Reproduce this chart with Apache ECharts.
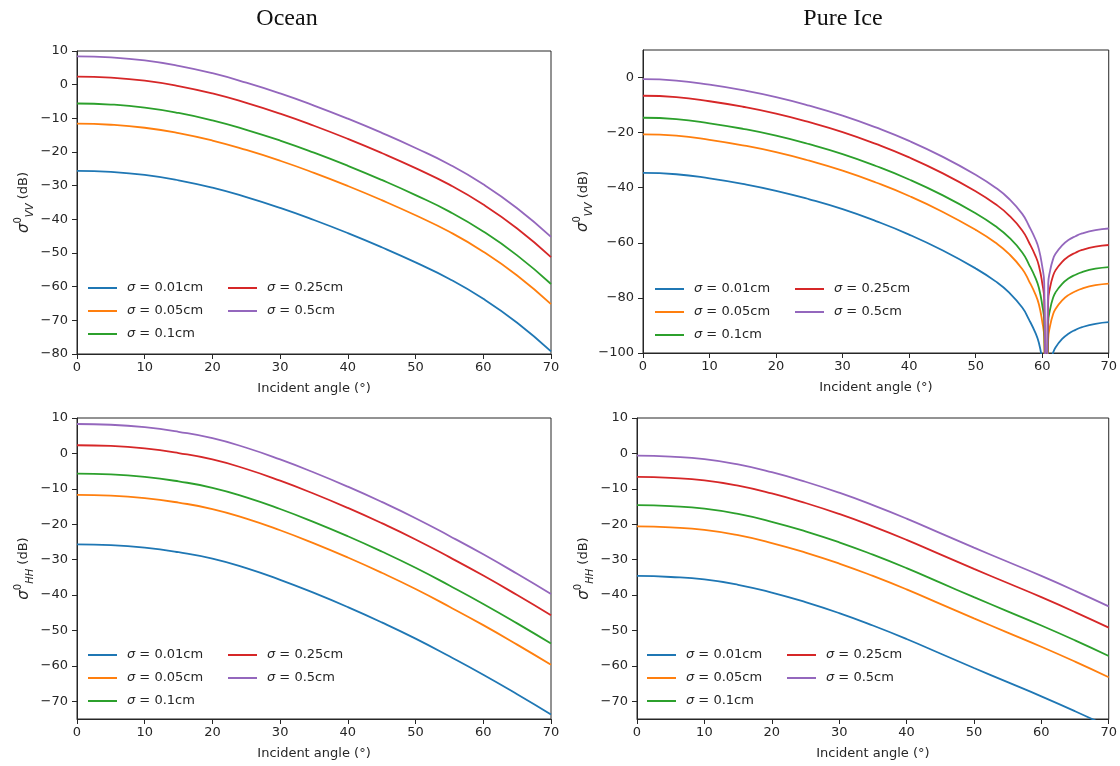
<!DOCTYPE html>
<html>
<head>
<meta charset="utf-8">
<script src="https://cdn.jsdelivr.net/npm/echarts@6/dist/echarts.min.js"></script>
<style>
  html, body { margin: 0; padding: 0; background: #fff; }
  #chart { width: 1120px; height: 766px; }
</style>
</head>
<body>
<div id="chart"></div>
<script>
// Backscattering coefficient vs incident angle for five rms heights (cm)
const sigmaValues = ['0.01', '0.05', '0.1', '0.25', '0.5'];
const lineColors = ['#1f77b4', '#ff7f0e', '#2ca02c', '#d62728', '#9467bd'];

// Incident angles (degrees)
const angles = [0, 5, 10, 15, 20, 25, 30, 35, 40, 45, 50, 55, 60, 65, 70];
// Pure ice VV has a deep null near 60.6°, so it is sampled more densely there
const iceVvAngles = [0, 5, 10, 15, 20, 25, 30, 35, 40, 45, 50, 53, 55, 57, 58, 59, 59.5, 60, 60.3,
  60.6, 60.9, 61.2, 61.6, 62, 63, 64, 65, 66, 68, 70];

// Tick values
const xTicks = [0, 10, 20, 30, 40, 50, 60, 70];
const oceanVvTicks = [-80, -70, -60, -50, -40, -30, -20, -10, 0, 10];
const iceVvTicks = [-100, -80, -60, -40, -20, 0];
const hhTicks = [-70, -60, -50, -40, -30, -20, -10, 0, 10];

// sigma0 (dB), rows in the order of sigmaValues
const oceanVv = [
  [-25.6, -25.9, -26.8, -28.4, -30.6, -33.4, -36.6, -40.2, -44.1, -48.3, -52.8, -57.7, -63.6, -70.7, -79.2],
  [-11.6, -11.9, -12.8, -14.4, -16.6, -19.4, -22.6, -26.2, -30.1, -34.3, -38.8, -43.7, -49.6, -56.7, -65.2],
  [-5.6, -5.9, -6.8, -8.4, -10.6, -13.4, -16.6, -20.2, -24.1, -28.3, -32.8, -37.7, -43.6, -50.7, -59.2],
  [2.4, 2.1, 1.2, -0.4, -2.6, -5.4, -8.6, -12.2, -16.1, -20.3, -24.8, -29.7, -35.6, -42.7, -51.2],
  [8.4, 8.1, 7.2, 5.6, 3.4, 0.6, -2.6, -6.2, -10.1, -14.3, -18.8, -23.7, -29.6, -36.7, -45.2]
];

const iceVv = [
  [-34.6, -35.1, -36.6, -38.6, -41.1, -44.2, -47.8, -52.1, -57.0, -62.7, -69.3, -74.0, -78.0, -83.5, -87.8,
   -92.8, -96.3, -102.5, -108.5, -174, -109.0, -104.0, -100.2, -98.0, -94.9, -92.9, -91.6, -90.6, -89.4, -88.8],
  [-20.6, -21.1, -22.6, -24.6, -27.1, -30.2, -33.8, -38.1, -43.0, -48.7, -55.3, -60.0, -64.0, -69.5, -73.8,
   -78.8, -82.3, -88.5, -94.5, -160, -95.0, -90.0, -86.2, -84.0, -80.9, -78.9, -77.6, -76.6, -75.4, -74.8],
  [-14.6, -15.1, -16.6, -18.6, -21.1, -24.2, -27.8, -32.1, -37.0, -42.7, -49.3, -54.0, -58.0, -63.5, -67.8,
   -72.8, -76.3, -82.5, -88.5, -154, -89.0, -84.0, -80.2, -78.0, -74.9, -72.9, -71.6, -70.6, -69.4, -68.8],
  [-6.6, -7.1, -8.6, -10.6, -13.1, -16.2, -19.8, -24.1, -29.0, -34.7, -41.3, -46.0, -50.0, -55.5, -59.8,
   -64.8, -68.3, -74.5, -80.5, -146, -81.0, -76.0, -72.2, -70.0, -66.9, -64.9, -63.6, -62.6, -61.4, -60.8],
  [-0.6, -1.1, -2.6, -4.6, -7.1, -10.2, -13.8, -18.1, -23.0, -28.7, -35.3, -40.0, -44.0, -49.5, -53.8,
   -58.8, -62.3, -68.5, -74.5, -140, -75.0, -70.0, -66.2, -64.0, -60.9, -58.9, -57.6, -56.6, -55.4, -54.8]
];

const oceanHh = [
  [-25.7, -25.9, -26.6, -27.9, -29.7, -32.4, -35.7, -39.4, -43.4, -47.7, -52.3, -57.3, -62.5, -68.0, -73.7],
  [-11.7, -11.9, -12.6, -13.9, -15.7, -18.4, -21.7, -25.4, -29.4, -33.7, -38.3, -43.3, -48.5, -54.0, -59.7],
  [-5.7, -5.9, -6.6, -7.9, -9.7, -12.4, -15.7, -19.4, -23.4, -27.7, -32.3, -37.3, -42.5, -48.0, -53.7],
  [2.3, 2.1, 1.4, 0.1, -1.7, -4.4, -7.7, -11.4, -15.4, -19.7, -24.3, -29.3, -34.5, -40.0, -45.7],
  [8.3, 8.1, 7.4, 6.1, 4.3, 1.6, -1.7, -5.4, -9.4, -13.7, -18.3, -23.3, -28.5, -34.0, -39.7]
];

const iceHh = [
  [-34.6, -34.9, -35.6, -37.1, -39.3, -42.0, -45.1, -48.6, -52.4, -56.5, -60.6, -64.6, -68.6, -72.8, -77.2],
  [-20.6, -20.9, -21.6, -23.1, -25.3, -28.0, -31.1, -34.6, -38.4, -42.5, -46.6, -50.6, -54.6, -58.8, -63.2],
  [-14.6, -14.9, -15.6, -17.1, -19.3, -22.0, -25.1, -28.6, -32.4, -36.5, -40.6, -44.6, -48.6, -52.8, -57.2],
  [-6.6, -6.9, -7.6, -9.1, -11.3, -14.0, -17.1, -20.6, -24.4, -28.5, -32.6, -36.6, -40.6, -44.8, -49.2],
  [-0.6, -0.9, -1.6, -3.1, -5.3, -8.0, -11.1, -14.6, -18.4, -22.5, -26.6, -30.6, -34.6, -38.8, -43.2]
];

const seriesNames = sigmaValues.map(s => 'σ = ' + s + 'cm');

const panels = [
  { grid: { left: 77, top: 51, width: 474, height: 303 }, pol: 'VV', min: -80, max: 10,
    ticks: oceanVvTicks, xs: angles, rows: oceanVv, legendLeft: 88, legendTop: 281 },
  { grid: { left: 643, top: 50, width: 467, height: 303 }, pol: 'VV', min: -100, max: 10,
    ticks: iceVvTicks, xs: iceVvAngles, rows: iceVv, legendLeft: 655, legendTop: 282 },
  { grid: { left: 77, top: 418, width: 474, height: 301 }, pol: 'HH', min: -75, max: 10,
    ticks: hhTicks, xs: angles, rows: oceanHh, legendLeft: 88, legendTop: 648 },
  { grid: { left: 637, top: 418, width: 473, height: 301 }, pol: 'HH', min: -75, max: 10,
    ticks: hhTicks, xs: angles, rows: iceHh, legendLeft: 647, legendTop: 648 }
];

const FONT = 'DejaVu Sans';
const INK = '#262626';
const minusSign = v => String(v).replace('-', '\u2212');

const grids = [], xAxes = [], yAxes = [], series = [], legends = [];

panels.forEach((p, i) => {
  grids.push(Object.assign({ show: true, borderColor: INK, borderWidth: 1, containLabel: false }, p.grid));

  xAxes.push({
    type: 'value', gridIndex: i, min: 0, max: 70, interval: 10,
    axisLine: { show: true, onZero: false, lineStyle: { color: INK, width: 1 } },
    axisTick: { show: true, inside: false, length: 5, lineStyle: { color: INK }, customValues: xTicks },
    axisLabel: { color: INK, fontFamily: FONT, fontSize: 13, margin: 7, customValues: xTicks },
    splitLine: { show: false },
    name: 'Incident angle (°)', nameLocation: 'middle', nameGap: 28,
    nameTextStyle: { color: INK, fontFamily: FONT, fontSize: 13 }
  });

  yAxes.push({
    type: 'value', gridIndex: i, min: p.min, max: p.max,
    axisLine: { show: true, onZero: false, lineStyle: { color: INK, width: 1 } },
    axisTick: { show: true, inside: false, length: 5, lineStyle: { color: INK }, customValues: p.ticks },
    axisLabel: { color: INK, fontFamily: FONT, fontSize: 13, margin: 9, customValues: p.ticks,
      formatter: minusSign },
    splitLine: { show: false },
    name: '{s|σ}{sup|0}{sub|' + p.pol + '} (dB)',
    nameLocation: 'middle', nameRotate: 90, nameGap: 42,
    nameTextStyle: {
      color: INK, fontFamily: FONT, fontSize: 13, lineHeight: 22,
      rich: {
        s: { fontFamily: FONT, fontStyle: 'italic', fontSize: 15, lineHeight: 22, color: INK },
        sup: { fontFamily: FONT, fontSize: 10, lineHeight: 22, verticalAlign: 'top', color: INK },
        sub: { fontFamily: FONT, fontStyle: 'italic', fontSize: 10, lineHeight: 22, verticalAlign: 'bottom', color: INK }
      }
    }
  });

  p.rows.forEach((row, k) => {
    series.push({
      type: 'line', name: seriesNames[k], xAxisIndex: i, yAxisIndex: i,
      data: p.xs.map((x, j) => [x, row[j]]),
      showSymbol: false, symbol: 'none', smooth: 0.5, clip: true,
      lineStyle: { color: lineColors[k], width: 1.8 },
      itemStyle: { color: lineColors[k] },
      emphasis: { disabled: true }, silent: true, z: 2 + k
    });
  });

  const legendBase = {
    orient: 'vertical', icon: 'rect', itemWidth: 29, itemHeight: 2, itemGap: 9, padding: 0,
    selectedMode: false, top: p.legendTop,
    formatter: name => name.replace('σ', '{s|σ}'),
    textStyle: {
      color: INK, fontFamily: FONT, fontSize: 13, lineHeight: 14, padding: [0, 0, 0, 5],
      rich: { s: { fontFamily: FONT, fontStyle: 'italic', fontSize: 13, lineHeight: 14, color: INK } }
    }
  };
  legends.push(Object.assign({}, legendBase, { left: p.legendLeft, data: seriesNames.slice(0, 3) }));
  legends.push(Object.assign({}, legendBase, { left: p.legendLeft + 140, data: seriesNames.slice(3) }));
});

const chart = echarts.init(document.getElementById('chart'), null, { renderer: 'canvas' });
chart.setOption({
  animation: false,
  backgroundColor: '#ffffff',
  color: lineColors,
  grid: grids,
  xAxis: xAxes,
  yAxis: yAxes,
  series: series,
  legend: legends,
  graphic: [
    { type: 'text', x: 287, y: 19, style: { text: 'Ocean', align: 'center', verticalAlign: 'middle',
      fontFamily: 'Liberation Serif', fontSize: 24, fill: '#111' } },
    { type: 'text', x: 843, y: 19, style: { text: 'Pure Ice', align: 'center', verticalAlign: 'middle',
      fontFamily: 'Liberation Serif', fontSize: 24, fill: '#111' } }
  ]
});
</script>
</body>
</html>
